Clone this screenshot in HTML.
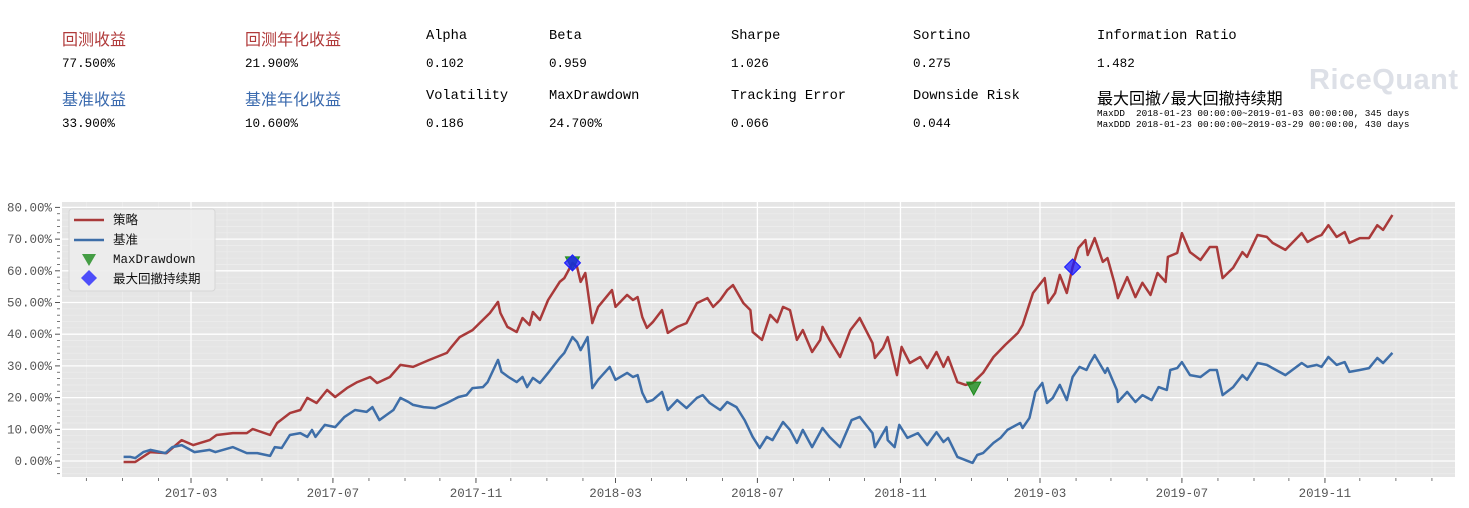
<!DOCTYPE html>
<html><head><meta charset="utf-8">
<style>
body{margin:0;background:#fff;width:1469px;height:508px;overflow:hidden;position:relative;font-family:"Liberation Mono","Noto Sans CJK SC",monospace}
.stat{position:absolute;white-space:nowrap}
.lab{font-size:16px;font-family:"Liberation Mono","Noto Sans CJK SC",monospace;color:#000}
.lab.lat{font-size:13.7px}
.val{font-size:12.6px;color:#000}
.red{color:#b03a3a}.blue{color:#3a6aae}
.small{font-size:9.3px;line-height:11px}
</style></head><body>
<div>
<div class="stat lab red" style="left:62px;top:26px">回测收益</div>
<div class="stat val" style="left:62px;top:57px">77.500%</div>
<div class="stat lab red" style="left:245px;top:26px">回测年化收益</div>
<div class="stat val" style="left:245px;top:57px">21.900%</div>
<div class="stat lab lat" style="left:426px;top:29px">Alpha</div>
<div class="stat val" style="left:426px;top:57px">0.102</div>
<div class="stat lab lat" style="left:549px;top:29px">Beta</div>
<div class="stat val" style="left:549px;top:57px">0.959</div>
<div class="stat lab lat" style="left:731px;top:29px">Sharpe</div>
<div class="stat val" style="left:731px;top:57px">1.026</div>
<div class="stat lab lat" style="left:913px;top:29px">Sortino</div>
<div class="stat val" style="left:913px;top:57px">0.275</div>
<div class="stat lab lat" style="left:1097px;top:29px">Information Ratio</div>
<div class="stat val" style="left:1097px;top:57px">1.482</div>
<div class="stat lab blue" style="left:62px;top:86px">基准收益</div>
<div class="stat val" style="left:62px;top:117px">33.900%</div>
<div class="stat lab blue" style="left:245px;top:86px">基准年化收益</div>
<div class="stat val" style="left:245px;top:117px">10.600%</div>
<div class="stat lab lat" style="left:426px;top:89px">Volatility</div>
<div class="stat val" style="left:426px;top:117px">0.186</div>
<div class="stat lab lat" style="left:549px;top:89px">MaxDrawdown</div>
<div class="stat val" style="left:549px;top:117px">24.700%</div>
<div class="stat lab lat" style="left:731px;top:89px">Tracking Error</div>
<div class="stat val" style="left:731px;top:117px">0.066</div>
<div class="stat lab lat" style="left:913px;top:89px">Downside Risk</div>
<div class="stat val" style="left:913px;top:117px">0.044</div>
<div class="stat lab" style="left:1097px;top:85px">最大回撤/最大回撤持续期</div>
<div class="stat small" style="left:1097px;top:108px">MaxDD&nbsp; 2018-01-23 00:00:00~2019-01-03 00:00:00, 345 days<br>MaxDDD 2018-01-23 00:00:00~2019-03-29 00:00:00, 430 days</div>
<div class="stat" style="left:1309px;top:64px;font-family:'Liberation Sans',sans-serif;font-size:29px;font-weight:bold;color:#dde0e7;letter-spacing:0.5px">RiceQuant</div>
</div>
<svg id="chart" width="1469" height="508" style="position:absolute;left:0;top:0"></svg>
<script>
const days = [1,11,24,38,51,61,75,81,95,107,112,127,133,144,153,159,167,176,183,193,202,213,219,230,239,250,264,279,283,290,301,310,316,323,325,331,339,344,350,353,359,366,376,380,387,391,394,398,404,409,421,424,434,439,443,447,451,456,464,469,477,485,494,503,508,514,520,525,534,540,542,550,557,563,568,574,580,585,593,600,602,608,617,626,634,645,647,654,658,666,670,677,686,692,700,706,710,718,725,731,740,749,759,770,774,783,787,793,796,802,806,812,817,822,828,830,836,843,847,853,856,864,871,877,884,890,897,899,907,911,918,927,935,941,946,955,963,967,976,984,989,1000,1014,1019,1027,1031,1037,1044,1051,1055,1064,1072,1079,1084,1092];
const strategy = [-0.3,-0.3,2.8,2.5,6.6,5.0,6.6,8.2,8.8,8.8,10.1,8.2,12.0,15.1,16.1,19.9,18.3,22.4,20.2,23.0,24.9,26.5,24.6,26.5,30.3,29.7,31.9,34.1,36.0,39.1,41.3,44.5,46.7,50.2,46.7,42.3,40.7,45.1,42.9,47.0,44.5,50.8,56.5,57.7,62.5,61.2,56.5,59.3,43.5,48.6,53.9,48.6,52.4,50.8,51.7,45.4,42.0,43.8,47.6,40.4,42.3,43.5,49.8,51.4,48.6,50.8,53.9,55.5,49.8,47.6,40.7,38.2,46.1,43.8,48.6,47.6,38.2,41.3,34.4,38.2,42.3,38.2,32.8,41.3,45.1,37.2,32.5,35.6,39.1,27.1,36.0,30.9,32.8,29.3,34.4,29.7,32.8,24.9,24.0,24.6,27.8,32.8,36.6,40.4,42.9,53.0,54.9,57.7,49.8,53.0,58.7,53.0,61.2,67.2,69.7,65.0,70.3,62.8,64.0,56.2,51.4,58.0,51.7,56.2,52.4,59.3,56.5,64.4,65.6,71.9,65.9,63.4,67.5,67.5,57.7,60.9,65.9,64.4,71.3,70.7,68.8,66.6,71.9,69.1,70.7,71.3,74.4,70.7,72.2,68.8,70.3,70.3,74.4,72.9,77.6];
const bdays = [1,7,11,18,24,37,43,51,62,75,80,95,107,116,127,131,137,144,153,159,163,166,174,183,191,200,210,215,221,227,233,239,246,250,259,269,279,289,296,301,310,314,323,326,332,339,344,348,353,359,366,376,380,387,391,394,400,404,409,419,424,434,439,443,447,451,456,464,469,477,485,494,499,505,514,520,528,535,542,548,554,559,568,574,580,585,593,602,608,617,627,634,645,647,657,658,664,668,675,684,692,700,706,710,718,731,735,740,749,755,761,772,774,780,785,791,795,800,806,812,817,823,829,832,836,845,847,855,856,864,871,877,885,891,898,901,907,911,918,927,935,941,946,955,963,967,976,984,989,1000,1014,1019,1027,1031,1037,1044,1051,1055,1064,1072,1079,1084,1092];
const benchmark = [1.3,1.3,0.9,2.8,3.5,2.5,4.4,5.0,2.8,3.5,2.8,4.4,2.5,2.5,1.6,4.4,4.1,8.2,8.8,7.6,9.8,7.6,11.4,10.7,13.9,16.1,15.5,17.0,12.9,14.5,16.1,19.9,18.6,17.7,17.0,16.7,18.3,20.2,20.8,23.0,23.3,24.9,31.9,28.1,26.5,24.9,26.5,23.3,26.2,24.6,27.8,32.5,34.1,39.1,37.5,35.0,39.1,23.0,25.6,29.7,25.6,27.8,26.5,27.1,21.5,18.6,19.2,21.8,16.1,19.2,16.7,19.9,20.8,18.3,16.1,18.6,17.0,12.9,7.6,4.1,7.6,6.6,12.3,9.8,5.7,9.8,4.4,10.4,7.6,4.4,12.9,13.9,8.8,4.4,10.7,6.6,4.4,11.4,7.3,8.8,5.0,9.1,6.0,7.3,1.3,-0.6,1.9,2.5,5.7,7.3,9.8,12.0,10.4,13.6,21.8,24.6,18.3,19.9,24.0,19.2,26.5,29.7,28.7,30.9,33.4,27.8,29.3,22.4,18.6,21.8,18.6,20.8,19.2,23.3,22.4,28.7,29.3,31.2,27.1,26.5,28.7,28.7,20.8,23.3,27.1,25.6,30.9,30.3,29.3,27.1,30.9,29.7,30.3,29.7,32.8,30.3,31.2,28.1,28.7,29.3,32.5,30.9,34.1];
const ddDays = [387,732];
const ddValues = [62.5,23.0];
const dddDays = [387,817];
const dddValues = [62.5,61.2];
const yTicks = [0,10,20,30,40,50,60,70,80];
const xTickLabels = ["2017-03","2017-07","2017-11","2018-03","2018-07","2018-11","2019-03","2019-07","2019-11"];

const NS="http://www.w3.org/2000/svg";
const svg=document.getElementById('chart');
const L=62,R=1455,T=202,B=477;
const base=Date.UTC(2017,0,1);
function xs(d){return 122.4+d*1.163;}
function ys(v){return 461-v*3.17;}
function dayOf(str){const p=str.split('-');return (Date.UTC(+p[0],+p[1]-1,+(p[2]||1))-base)/86400000;}
function mk(tag,attrs,parent){const e=document.createElementNS(NS,tag);for(const k in attrs)e.setAttribute(k,attrs[k]);(parent||svg).appendChild(e);return e;}

const bg=mk('rect',{x:L,y:T,width:R-L,height:B-T,fill:'#e5e5e5'});


for(let v=-4;v<=82;v+=2){if(v%10===0)continue;const y=ys(v);if(y<T||y>B)continue;
 mk('line',{x1:L,x2:R,y1:y,y2:y,stroke:'#ececec','stroke-width':0.8});
 mk('line',{x1:57,x2:60,y1:y,y2:y,stroke:'#555','stroke-width':0.8});}
const monthDays=[];
for(let yr=2016;yr<=2020;yr++)for(let m=0;m<12;m++){const d=(Date.UTC(yr,m,1)-base)/86400000;const x=xs(d);if(x>L+3&&x<R-3)monthDays.push(d);}
monthDays.forEach(d=>{const x=xs(d);mk('line',{x1:x,x2:x,y1:T,y2:B,stroke:'#ececec','stroke-width':0.8});mk('line',{x1:x,x2:x,y1:B+1,y2:B+4,stroke:'#555','stroke-width':0.8});});
yTicks.forEach(v=>{const y=ys(v);
 const g=mk('line',{x1:L,x2:R,y1:y,y2:y,stroke:'#fff','stroke-width':1.3});
 
 
 mk('line',{x1:55,x2:60,y1:y,y2:y,stroke:'#555','stroke-width':1});
 const t=mk('text',{x:52,y:y+4,'text-anchor':'end','font-size':'12.5px',fill:'#555','font-family':'"Liberation Mono",monospace'});
 t.textContent=v.toFixed(2)+'%';
 
 });
xTickLabels.forEach(s=>{const x=xs(dayOf(s));
 const g=mk('line',{x1:x,x2:x,y1:T,y2:B,stroke:'#fff','stroke-width':1.3});
 
 
 mk('line',{x1:x,x2:x,y1:B+1,y2:B+6,stroke:'#555','stroke-width':1});
 const t=mk('text',{x:x,y:497,'text-anchor':'middle','font-size':'12.5px',fill:'#555','font-family':'"Liberation Mono",monospace'});
 t.textContent=s;
 
 });
function line(dd,vals,color,name){
 const p=mk('polyline',{points:dd.map((d,i)=>xs(d).toFixed(1)+','+ys(vals[i]).toFixed(1)).join(' '),fill:'none',stroke:color,'stroke-width':2.5,'stroke-linejoin':'round'});
 
 }
line(days,strategy,'#a93a3a','strategy-line');
line(bdays,benchmark,'#3e6ea8','benchmark-line');
ddDays.forEach((d,i)=>{const x=xs(d),y=ys(ddValues[i]);
 const m=mk('polygon',{points:`${x-7},${y-6} ${x+7},${y-6} ${x},${y+7}`,fill:'#1a8a1a','fill-opacity':0.8,stroke:'#1a8a1a'});
 
 });
dddDays.forEach((d,i)=>{const x=xs(d),y=ys(dddValues[i]);
 const m=mk('polygon',{points:`${x},${y-8} ${x+8},${y} ${x},${y+8} ${x-8},${y}`,fill:'#1a1aff','fill-opacity':0.75,stroke:'#1a1aff'});
 
 });
const lg=mk('g',{});


mk('rect',{x:69,y:209,width:146,height:82,rx:3,fill:'#ececec','fill-opacity':0.9,stroke:'#d6d6d6'},lg);
mk('line',{x1:74,x2:104,y1:220,y2:220,stroke:'#a93a3a','stroke-width':2.5},lg);
mk('line',{x1:74,x2:104,y1:240,y2:240,stroke:'#3e6ea8','stroke-width':2.5},lg);
mk('polygon',{points:'82,254 96,254 89,266',fill:'#1a8a1a','fill-opacity':0.8},lg);
mk('polygon',{points:'89,270 97,278 89,286 81,278',fill:'#1a1aff','fill-opacity':0.75},lg);
[['策略',224],['基准',244],['MaxDrawdown',263],['最大回撤持续期',283]].forEach(([s,y])=>{
 const t=mk('text',{x:113,y:y,'font-size':'12.5px',fill:'#111','font-family':'"Liberation Mono","Noto Sans CJK SC",monospace'},lg);
 t.textContent=s;
 
 });
</script>
</body></html>
